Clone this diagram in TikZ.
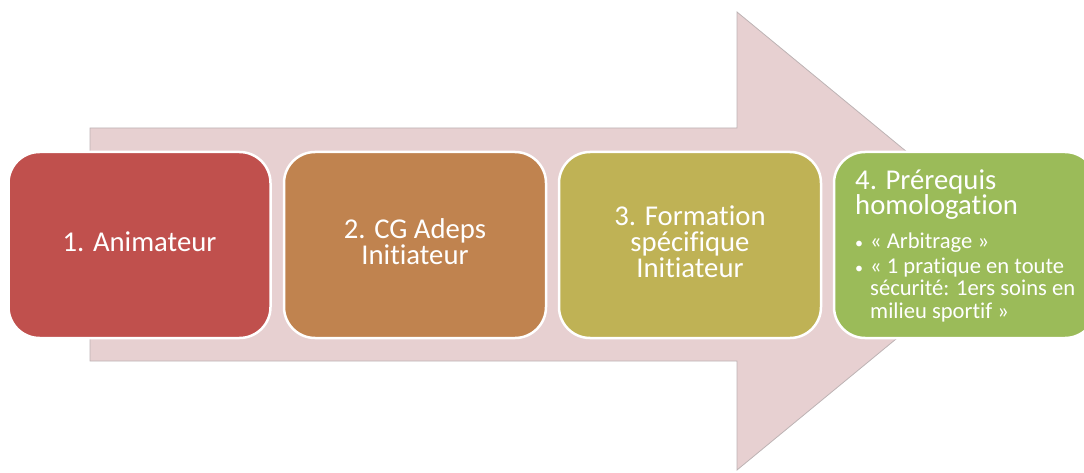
\documentclass[tikz,border=0pt]{standalone}
\usepackage{fontspec}
\setmainfont{Carlito}[Ligatures=NoCommon]
\definecolor{arrowfill}{HTML}{E7D0D1}
\definecolor{arrowline}{HTML}{BDB3B4}
\definecolor{cone}{HTML}{C0504D}
\definecolor{ctwo}{HTML}{C0834F}
\definecolor{cthree}{HTML}{BFB255}
\definecolor{cfour}{HTML}{9BBB59}
\begin{document}
\begin{tikzpicture}[x=1pt,y=-1pt,
  stepbox/.style={draw=white, line width=2.5pt, rounded corners=31pt,
    minimum width=262pt, minimum height=186pt, inner sep=0pt, text depth=7pt,
    text=white, align=center, font=\fontsize{28.7}{26}\selectfont}]
\useasboundingbox (0,0) rectangle (1084,473);
\fill[arrowfill] (90,128) -- (737,128) -- (737,12) -- (1015,241) -- (737,470) -- (737,361) -- (90,361) -- cycle;
\draw[arrowline, line width=0.8pt] (1015,241) -- (737,12) -- (737,128) -- (90,128) -- (90,361) -- (737,361) -- (737,470) -- cycle;
\node[stepbox, fill=cone] (b1) at (139.5,245) {1. Animateur};
\node[stepbox, fill=ctwo] (b2) at (415,245) {2. CG Adeps\\Initiateur};
\node[stepbox, fill=cthree] (b3) at (690,245) {3. Formation\\spécifique\\Initiateur};
\node[stepbox, fill=cfour] (b4) at (965,245) {};
\node[anchor=base west, inner sep=0pt, text=white] (t4) at (855,189.5) {%
\begin{minipage}[t]{240pt}\raggedright
\fontsize{28.7}{25}\selectfont 4. Prérequis\newline homologation\par
\vspace{9pt}
\fontsize{22.6}{22.5}\selectfont\setlength{\parskip}{2.5pt}%
\hangindent=15pt\hangafter=1\makebox[15pt][l]{\fontsize{16}{16}\selectfont\textbullet}« Arbitrage »\par
\hangindent=15pt\hangafter=1\makebox[15pt][l]{\fontsize{16}{16}\selectfont\textbullet}« 1 pratique en toute\newline sécurité: 1ers soins en\newline milieu sportif »\par
\end{minipage}};
\end{tikzpicture}
\end{document}
